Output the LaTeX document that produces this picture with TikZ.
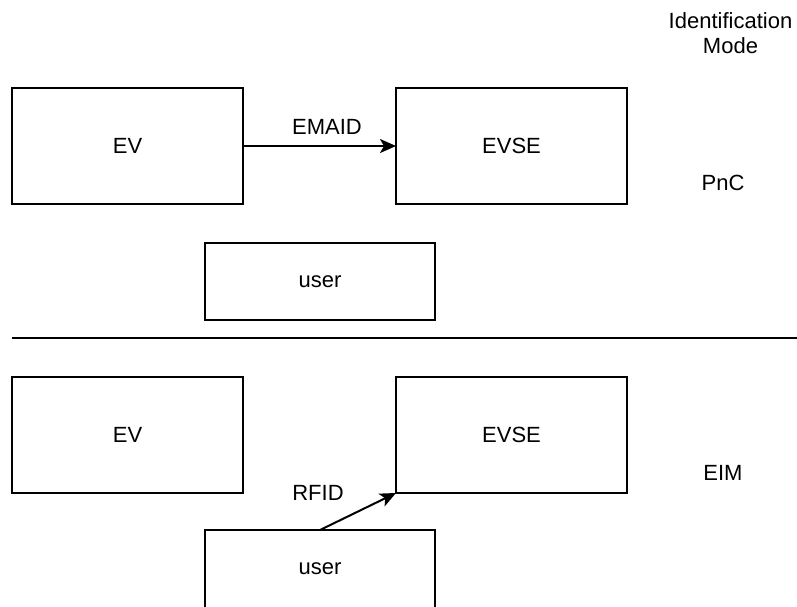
\documentclass[tikz,border=0pt]{standalone}
\usepackage{fontspec}
\setmainfont{Liberation Sans}
\usetikzlibrary{arrows.meta}
\begin{document}
\begin{tikzpicture}[x=1pt,y=-1pt,
  every node/.style={font=\fontsize{22}{26}\selectfont, inner sep=0pt, outer sep=0pt},
  box/.style={draw, line width=2pt, minimum width=231pt, minimum height=116pt},
  ubox/.style={draw, line width=2pt, minimum width=230pt, minimum height=77pt},
  conn/.style={line width=2pt, -{Stealth[length=16pt,width=14pt,inset=4pt]}},
  lbl/.style={align=center}]
\useasboundingbox (0,0) rectangle (797,606);
\begin{scope}
\clip (0,0) rectangle (797,606);
% top section
\node[box] (ev1) at (127.5,146) {EV};
\node[box] (evse1) at (511.5,146) {EVSE};
\node[ubox] (user1) at (320,281.5) {user};
\draw[conn] (ev1.east) -- (evse1.west);
\node (emaid) at (327,127) {EMAID};
% separator
\coordinate (sepL) at (12,338);
\coordinate (sepR) at (797,338);
\draw[line width=2.2pt] (sepL) -- (sepR);
% bottom section
\node[box] (ev2) at (127.5,435) {EV};
\node[box] (evse2) at (511.5,435) {EVSE};
\node[ubox, minimum height=82pt] (user2) at (320,571) {};
\node (user2txt) at (320,568.5) {user};
\draw[conn] (user2.north) -- (evse2.south west);
\node (rfid) at (318,493) {RFID};
% mode labels
\node[lbl] (mode) at (730.5,33) {Identification\\[-1pt]Mode};
\node (pnc) at (723,183) {PnC};
\node (eim) at (723,473) {EIM};
\end{scope}
\end{tikzpicture}
\end{document}
